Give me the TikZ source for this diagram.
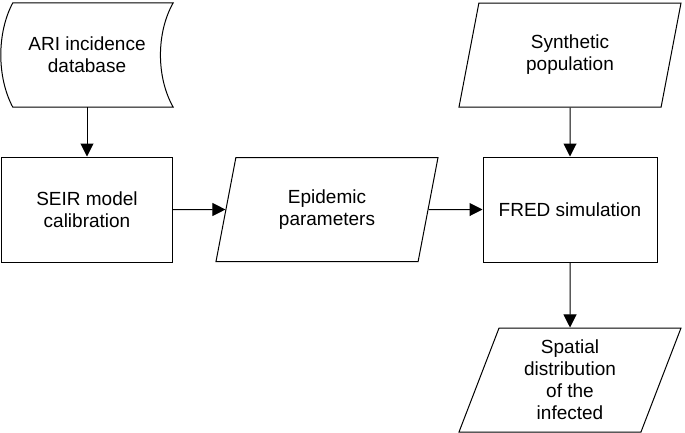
\documentclass[tikz,border=0pt]{standalone}
\usepackage{fontspec}
\setmainfont{Liberation Sans}
\usetikzlibrary{arrows.meta, shapes.geometric}

\begin{document}
\begin{tikzpicture}[x=1pt,y=1pt,yscale=-1,
  every node/.style={font=\fontsize{19}{22}\selectfont, align=center, inner sep=0pt},
  procbox/.style={draw, line width=1pt, minimum width=171pt, minimum height=105pt},
  iobox/.style={draw, line width=1pt, trapezium, trapezium left angle=63.4, trapezium right angle=116.6, trapezium stretches body, minimum width=222pt, minimum height=104pt},
  flow/.style={line width=1pt, -{Triangle[length=13pt,width=13pt]}}]
\useasboundingbox (0,0) rectangle (685,432);

% Stored data
\node[minimum width=172pt, minimum height=104pt] (ari) at (87,55) {ARI incidence\\database};
\draw[line width=1pt] ([xshift=12pt]ari.north west) -- (ari.north east)
  .. controls ([xshift=-17pt,yshift=30pt]ari.north east) and ([xshift=-17pt,yshift=-30pt]ari.south east) .. (ari.south east)
  -- ([xshift=12pt]ari.south west)
  .. controls ([xshift=-4pt,yshift=-30pt]ari.south west) and ([xshift=-4pt,yshift=30pt]ari.north west) .. ([xshift=12pt]ari.north west) -- cycle;

% Processes
\node[procbox] (seir) at (87,209.5) {SEIR model\\calibration};
\node[procbox, minimum width=174pt] (fred) at (570,209.5) {FRED simulation};

% Data
\node[iobox] (epi) at (327,209.5) {Epidemic\\parameters};
\node[iobox] (synth) at (570,55) {Synthetic\\population};
\node[iobox] (spatial) at (570,380) {Spatial\\distribution\\of the\\infected};

% Flow
\draw[flow] (ari.south) -- (seir.north);
\draw[flow] (seir) -- (epi);
\draw[flow] (epi) -- (fred);
\draw[flow] (synth) -- (fred);
\draw[flow] (fred) -- (spatial);
\end{tikzpicture}
\end{document}
